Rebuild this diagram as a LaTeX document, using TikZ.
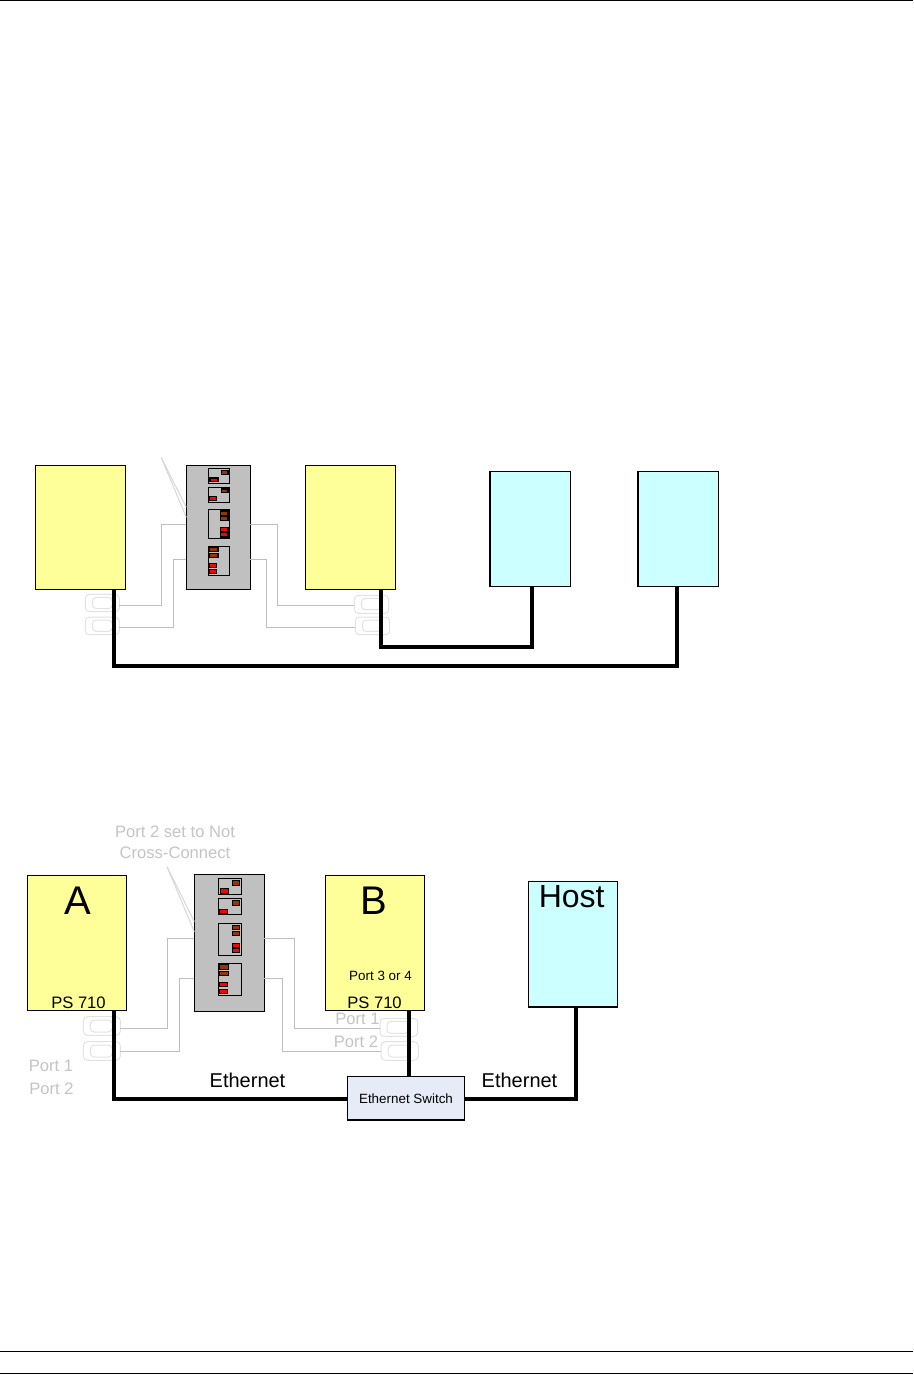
\documentclass[tikz,border=0pt]{standalone}
\usepackage{fontspec}
\setmainfont{Liberation Sans}
\usetikzlibrary{positioning, calc}
\definecolor{PS_Yellow}{HTML}{FFFF99}
\definecolor{Host_Cyan}{HTML}{CCFFFF}
\definecolor{Panel_Gray}{HTML}{C0C0C0}
\definecolor{Wire_Gray}{HTML}{BEBEBE}
\definecolor{Plug_Gray}{HTML}{E2E2E2}
\definecolor{Label_Gray}{HTML}{C4C4C4}
\definecolor{Dip_Brown}{HTML}{993300}
\definecolor{Switch_Blue}{HTML}{E6ECF7}

\begin{document}
\begin{tikzpicture}[
  x=1pt, y=-1pt, every node/.style={inner sep=0pt, outer sep=0pt},
  psbox/.style={draw, line width=1.2pt, fill=PS_Yellow, anchor=north west},
  hostbox/.style={draw, line width=1.2pt, fill=Host_Cyan, anchor=north west},
  panel/.style={draw, line width=1.2pt, fill=Panel_Gray, anchor=north west},
  dipsw/.style={draw, line width=1.2pt, anchor=north west},
  reddip/.style={draw, line width=1.2pt, fill=red},
  browndip/.style={draw, line width=1.2pt, fill=Dip_Brown},
  plug/.style={draw=Plug_Gray, line width=1pt, rounded corners=4pt, anchor=north west},
  wire/.style={draw=Wire_Gray, line width=1pt},
  leader/.style={draw=Plug_Gray!70!Wire_Gray, line width=1pt},
  eth/.style={line width=4pt},
  big/.style={font=\fontsize{40}{44}\selectfont},
  mid/.style={font=\fontsize{20}{22}\selectfont},
  lab/.style={font=\fontsize{16.6}{18}\selectfont},
  small/.style={font=\fontsize{13.4}{15}\selectfont},
  faded/.style={lab, text=Label_Gray}
]
  \useasboundingbox (0,0) rectangle (913,1375);

  % Page rules
  \coordinate (topl) at (0,0.5);
  \coordinate (topr) at (913,0.5);
  \draw[line width=1pt] (topl) -- (topr);
  \coordinate (botl) at (0,1351.5);
  \coordinate (botr) at (913,1351.5);
  \draw[line width=1pt] (botl) -- (botr);
  \coordinate (endl) at (0,1373.8);
  \coordinate (endr) at (913,1373.8);
  \draw[line width=1pt] (endl) -- (endr);

  % ---- Upper figure ----
  \node[psbox, minimum width=90pt, minimum height=124pt] (psu) at (35.3,465.3) {};
  \node[panel, minimum width=64pt, minimum height=124pt, right=61pt of psu.north east, anchor=north west] (panu) {};
  \node[psbox, minimum width=90pt, minimum height=124pt, right=55pt of panu.north east, anchor=north west] (psv) {};
  \node[hostbox, minimum width=80.5pt, minimum height=115pt] (hostu) at (490,471.3) {};
  \node[hostbox, minimum width=80.5pt, minimum height=115pt, right=67.5pt of hostu.north east, anchor=north west] (hostv) {};

  % Dip switches
  \node[dipsw, minimum width=21.4pt, minimum height=15pt] (su1) at ([xshift=22pt, yshift=-3pt]panu.north west) {};
  \draw[browndip] ([xshift=13pt, yshift=-2pt]su1.north west) rectangle ++(6.7,4.4);
  \draw[reddip] ([xshift=1.7pt, yshift=-9.7pt]su1.north west) rectangle ++(8,3.7);
  \node[dipsw, minimum width=21.4pt, minimum height=15.4pt] (su2) at ([xshift=22pt, yshift=-22pt]panu.north west) {};
  \draw[browndip] ([xshift=13pt, yshift=-1.7pt]su2.north west) rectangle ++(6.7,3.7);
  \draw[reddip] ([xshift=0.7pt, yshift=-9pt]su2.north west) rectangle ++(7.7,4.4);
  \node[dipsw, minimum width=21.4pt, minimum height=29.4pt] (su3) at ([xshift=22pt, yshift=-44pt]panu.north west) {};
  \draw[browndip] ([xshift=12pt, yshift=-1.7pt]su3.north west) rectangle ++(7.7,4.7);
  \draw[browndip] ([xshift=12pt, yshift=-6.7pt]su3.north west) rectangle ++(7.7,4.7);
  \draw[reddip] ([xshift=12pt, yshift=-18pt]su3.north west) rectangle ++(7.7,4.7);
  \draw[reddip] ([xshift=12pt, yshift=-23pt]su3.north west) rectangle ++(7.7,4.7);
  \node[dipsw, minimum width=21.4pt, minimum height=29.4pt] (su4) at ([xshift=22pt, yshift=-81pt]panu.north west) {};
  \draw[browndip] ([xshift=0.7pt, yshift=-1pt]su4.north west) rectangle ++(9,4.4);
  \draw[browndip] ([xshift=0.7pt, yshift=-7pt]su4.north west) rectangle ++(9,4.4);
  \draw[reddip] ([xshift=0.7pt, yshift=-17pt]su4.north west) rectangle ++(7.7,4.4);
  \draw[reddip] ([xshift=0.7pt, yshift=-23pt]su4.north west) rectangle ++(7.7,4.4);

  % Plugs
  \node[plug, minimum width=34pt, minimum height=17.4pt] (pa1) at (85.3,594.3) {};
  \node[plug, minimum width=20pt, minimum height=11.4pt] (pa1i) at (92.3,597.3) {};
  \node[plug, minimum width=34pt, minimum height=17.7pt] (pa2) at (85.3,617) {};
  \node[plug, minimum width=20pt, minimum height=11.4pt] (pa2i) at (92.3,620) {};
  \node[plug, minimum width=34.4pt, minimum height=18pt] (pb1) at (354.3,595.3) {};
  \node[plug, minimum width=20pt, minimum height=11.4pt] (pb1i) at (361.3,598.3) {};
  \node[plug, minimum width=34.4pt, minimum height=17.7pt] (pb2) at (355.3,617) {};
  \node[plug, minimum width=20pt, minimum height=11.4pt] (pb2i) at (362.3,620) {};

  % Grey wires
  \coordinate (wu1) at ([yshift=-59pt]panu.north west);
  \coordinate (wu2) at ([yshift=-94pt]panu.north west);
  \coordinate (wu3) at ([yshift=-59pt]panu.north east);
  \coordinate (wu4) at ([yshift=-94pt]panu.north east);
  \draw[wire] (wu1) -- ++(-24.7,0) |- ([yshift=-2.3pt]pa1.east);
  \draw[wire] (wu2) -- ++(-12.7,0) |- ([yshift=-1.5pt]pa2.east);
  \draw[wire] (wu3) -- ++(27,0) |- ([yshift=-0.9pt]pb1.west);
  \draw[wire] (wu4) -- ++(16,0) |- ([yshift=-1.5pt]pb2.west);
  \coordinate (ldu) at (161.3,457.7);
  \draw[leader] (ldu) -- ([yshift=-42pt]panu.north west);
  \draw[leader] (ldu) -- ([yshift=-52pt]panu.north west);

  % Thick links
  \draw[eth] ([xshift=33.2pt]psu.south) -- ++(0,76.5) -| ([xshift=-1.7pt]hostv.south);
  \draw[eth] ([xshift=30.2pt]psv.south) -- ++(0,58) -| ([xshift=1.7pt]hostu.south);

  % ---- Lower figure ----
  \node[psbox, minimum width=99pt, minimum height=135pt] (psa) at (27.3,875.3) {};
  \node[panel, minimum width=70pt, minimum height=137pt, right=68pt of psa.north east, anchor=north west, yshift=1pt] (pana) {};
  \node[psbox, minimum width=99.4pt, minimum height=135pt] (psb) at (325.3,875.3) {};
  \node[hostbox, minimum width=89pt, minimum height=125.7pt] (host) at (528.3,881.3) {};

  % Dip switches
  \node[dipsw, minimum width=23.4pt, minimum height=16pt] (sa1) at ([xshift=24pt, yshift=-4pt]pana.north west) {};
  \draw[browndip] ([xshift=14pt, yshift=-2pt]sa1.north west) rectangle ++(7.4,5.4);
  \draw[reddip] ([xshift=2pt, yshift=-10pt]sa1.north west) rectangle ++(8.4,5.4);
  \node[dipsw, minimum width=23.4pt, minimum height=16pt] (sa2) at ([xshift=24pt, yshift=-24pt]pana.north west) {};
  \draw[browndip] ([xshift=14pt, yshift=-2pt]sa2.north west) rectangle ++(7.4,5.4);
  \draw[reddip] ([xshift=0.7pt, yshift=-11pt]sa2.north west) rectangle ++(8.7,4.4);
  \node[dipsw, minimum width=23.4pt, minimum height=32pt] (sa3) at ([xshift=24pt, yshift=-49pt]pana.north west) {};
  \draw[browndip] ([xshift=14pt, yshift=-2pt]sa3.north west) rectangle ++(7.4,4.4);
  \draw[browndip] ([xshift=14pt, yshift=-8pt]sa3.north west) rectangle ++(7.4,4.4);
  \draw[reddip] ([xshift=14pt, yshift=-20pt]sa3.north west) rectangle ++(7.4,4.4);
  \draw[reddip] ([xshift=14pt, yshift=-25pt]sa3.north west) rectangle ++(7.4,4.4);
  \node[dipsw, minimum width=23.4pt, minimum height=32pt] (sa4) at ([xshift=24pt, yshift=-89pt]pana.north west) {};
  \draw[browndip] ([xshift=0.7pt, yshift=-1pt]sa4.north west) rectangle ++(9.7,5.4);
  \draw[browndip] ([xshift=0.7pt, yshift=-8pt]sa4.north west) rectangle ++(9.7,4.4);
  \draw[reddip] ([xshift=0.7pt, yshift=-19pt]sa4.north west) rectangle ++(8.7,4.4);
  \draw[reddip] ([xshift=0.7pt, yshift=-26pt]sa4.north west) rectangle ++(8.7,4.4);

  % Plugs
  \node[plug, minimum width=37pt, minimum height=18.6pt] (qa1) at (83.3,1016.7) {};
  \node[plug, minimum width=22pt, minimum height=12pt] (qa1i) at (90.3,1020) {};
  \node[plug, minimum width=37pt, minimum height=18.6pt] (qa2) at (83.3,1041.7) {};
  \node[plug, minimum width=22pt, minimum height=12pt] (qa2i) at (90.3,1045) {};
  \node[plug, minimum width=37.7pt, minimum height=18pt] (qb1) at (380,1018.3) {};
  \node[plug, minimum width=22pt, minimum height=12pt] (qb1i) at (387,1021.3) {};
  \node[plug, minimum width=37.3pt, minimum height=18.6pt] (qb2) at (381,1041.7) {};
  \node[plug, minimum width=22pt, minimum height=12pt] (qb2i) at (388,1045) {};

  % Grey wires
  \coordinate (wa1) at ([yshift=-63.7pt]pana.north west);
  \coordinate (wa2) at ([yshift=-103.7pt]pana.north west);
  \coordinate (wa3) at ([yshift=-63.7pt]pana.north east);
  \coordinate (wa4) at ([yshift=-103.7pt]pana.north east);
  \draw[wire] (wa1) -- ++(-27,0) |- ([yshift=-2.3pt]qa1.east);
  \draw[wire] (wa2) -- ++(-15,0) |- (qa2.east);
  \draw[wire] (wa3) -- ++(30,0) |- ([yshift=-0.9pt]qb1.west);
  \draw[wire] (wa4) -- ++(18,0) |- (qb2.west);
  \coordinate (lda) at (167,866.7);
  \draw[leader] (lda) -- ([yshift=-47.4pt]pana.north west);
  \draw[leader] (lda) -- ([yshift=-57.4pt]pana.north west);

  % Ethernet switch
  \node[draw, line width=1.2pt, fill=Switch_Blue, small, minimum width=117.4pt, minimum height=43.5pt, anchor=north west] (esw) at (347.3,1076.5) {Ethernet Switch};

  % Thick links
  \draw[eth] ([yshift=-0.8pt]esw.west) -| ([xshift=37.2pt]psa.south);
  \draw[eth] ([xshift=33.5pt]psb.south) -- ([xshift=33.5pt]psb.south |- esw.north);
  \draw[eth] ([yshift=-0.8pt]esw.east) -| ([xshift=3.4pt]host.south);

  % Labels
  \node[big] (la) at ([xshift=0.7pt, yshift=-25.7pt]psa.north) {A};
  \node[big] (lb) at ([xshift=-1.3pt, yshift=-25.7pt]psb.north) {B};
  \node[font=\fontsize{32}{36}\selectfont] (lh) at ([xshift=-1.1pt, yshift=-15pt]host.north) {Host};
  \node[lab] (lpa) at ([xshift=1.7pt, yshift=7.8pt]psa.south) {PS 710};
  \node[lab] (lpb) at ([xshift=-0.5pt, yshift=7.8pt]psb.south) {PS 710};
  \node[small] (lpo) at ([xshift=5.5pt, yshift=34pt]psb.south) {Port 3 or 4};
  \node[mid] (le1) at ([xshift=-158.5pt, yshift=18pt]esw.center) {Ethernet};
  \node[mid] (le2) at ([xshift=113.5pt, yshift=18pt]esw.center) {Ethernet};
  \node[faded] (lc1) at (175,832) {Port 2 set to Not};
  \node[faded, below=9pt of lc1] (lc2) {Cross-Connect};
  \node[faded] (lq1) at (51,1066) {Port 1};
  \node[faded] (lq2) at (51.5,1089) {Port 2};
  \node[faded] (lq3) at (357.5,1019) {Port 1};
  \node[faded] (lq4) at (356,1042) {Port 2};
\end{tikzpicture}
\end{document}
